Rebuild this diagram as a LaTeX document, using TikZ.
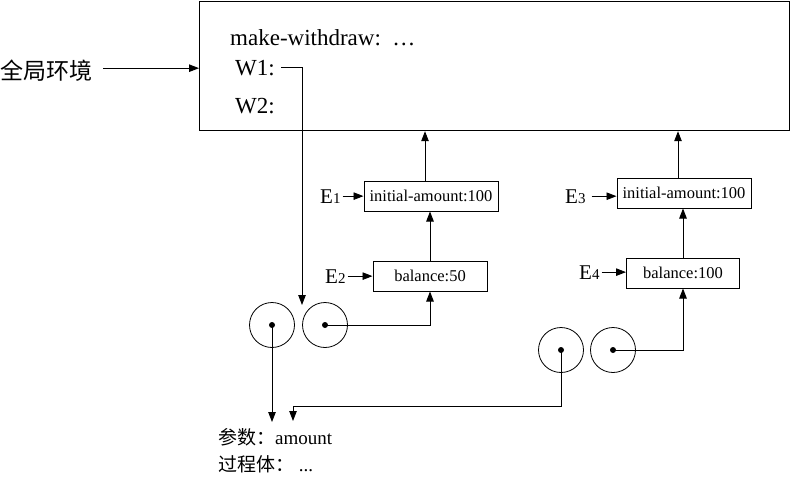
\documentclass[tikz,border=0pt]{standalone}
\usepackage{fontspec}
\setmainfont{Liberation Serif}
\newfontfamily\cjk{Noto Sans CJK SC}
\usetikzlibrary{arrows.meta}
\newcommand{\Ebig}{\fontsize{21}{21}\selectfont}
\newcommand{\Esmall}{\fontsize{15}{15}\selectfont}
\begin{document}
\begin{tikzpicture}[x=1pt,y=-1pt,
  arr/.style={-{Triangle[length=10pt,width=7.5pt]}, line width=0.9pt},
  envbox/.style={draw, line width=1pt, minimum height=30pt, inner sep=0pt,
    font=\fontsize{16.5}{18}\selectfont},
  cell/.style={circle, draw, line width=0.8pt, minimum size=45pt, inner sep=0pt},
  dotnode/.style={circle, fill, minimum size=6pt, inner sep=0pt},
  lbl/.style={anchor=base west, inner sep=0pt}]
\useasboundingbox (0,0) rectangle (790,477);

% global environment frame
\node[draw, line width=1.2pt, minimum width=590pt, minimum height=129pt,
  anchor=north west, inner sep=0pt] (global) at (199,1) {};
\node[lbl, font=\fontsize{23}{23}\selectfont] (mw) at (230,45) {make-withdraw:\ \ …};
\node[lbl, font=\fontsize{23}{23}\selectfont] (w1) at (235,75) {W1:};
\node[lbl, font=\fontsize{23}{23}\selectfont] (w2) at (235,113) {W2:};
\node[lbl, font=\cjk\fontsize{23}{23}\selectfont] (genv) at (0,79) {全局环境};
\draw[arr, shorten <=11pt] ([yshift=2pt]genv.east) -- ([yshift=2pt]genv.east -| global.west);

% environment frames
\node[envbox, minimum width=134pt] (e1) at (431,196) {initial-amount:100};
\node[envbox, minimum width=114pt] (b1) at (430,276) {balance:50};
\node[envbox, minimum width=134pt] (e3) at (684,193) {initial-amount:100};
\node[envbox, minimum width=113pt] (b2) at (683,273) {balance:100};

\node[lbl] (E1) at (320,203) {\Ebig E\Esmall 1};
\node[lbl] (E2) at (325,283) {\Ebig E\Esmall 2};
\node[lbl] (E3) at (565,203) {\Ebig E\Esmall 3};
\node[lbl] (E4) at (579,279) {\Ebig E\Esmall 4};
\draw[arr, shorten <=2pt] (E1.east) -- (E1.east -| e1.west);
\draw[arr, shorten <=2pt] (E2.east) -- (E2.east -| b1.west);
\draw[arr, shorten <=6pt] (E3.east) -- (E3.east -| e3.west);
\draw[arr, shorten <=2pt] (E4.east) -- (E4.east -| b2.west);

% enclosing-environment pointers
\draw[arr] ([xshift=-6pt]e1.north) -- ([xshift=-6pt]e1.north |- global.south);
\draw[arr] (b1.north) -- (b1.north |- e1.south);
\draw[arr] ([xshift=-6pt]e3.north) -- ([xshift=-6pt]e3.north |- global.south);
\draw[arr] (b2.north) -- (b2.north |- e3.south);

% procedure objects
\node[cell] (c1a) at (272,325) {};
\node[cell] (c1b) at (325,325) {};
\node[cell] (c2a) at (561,350) {};
\node[cell] (c2b) at (613,350) {};
\node[dotnode] (d1a) at (c1a) {};
\node[dotnode] (d1b) at (c1b) {};
\node[dotnode] (d2a) at (c2a) {};
\node[dotnode] (d2b) at (c2b) {};

\coordinate (p1tip) at (302,305);
\coordinate (t1) at (272,422);
\coordinate (t2) at (293,421);

\draw[arr] ([xshift=6pt]w1.east) -| (p1tip);
\draw[arr] (d1b.center) -| (b1.south);
\draw[arr] (d2b.center) -| (b2.south);
\draw[arr] (d1a.center) -- (t1);
\draw[arr] (d2a.center) |- ([yshift=15pt]t2) -- (t2);

% procedure text
\node[lbl, font=\fontsize{19}{19}\selectfont] (params) at (218,444) {{\cjk 参数：}amount};
\node[lbl, font=\fontsize{19}{19}\selectfont] (body) at (218,471) {{\cjk 过程体：} ...};
\end{tikzpicture}
\end{document}
